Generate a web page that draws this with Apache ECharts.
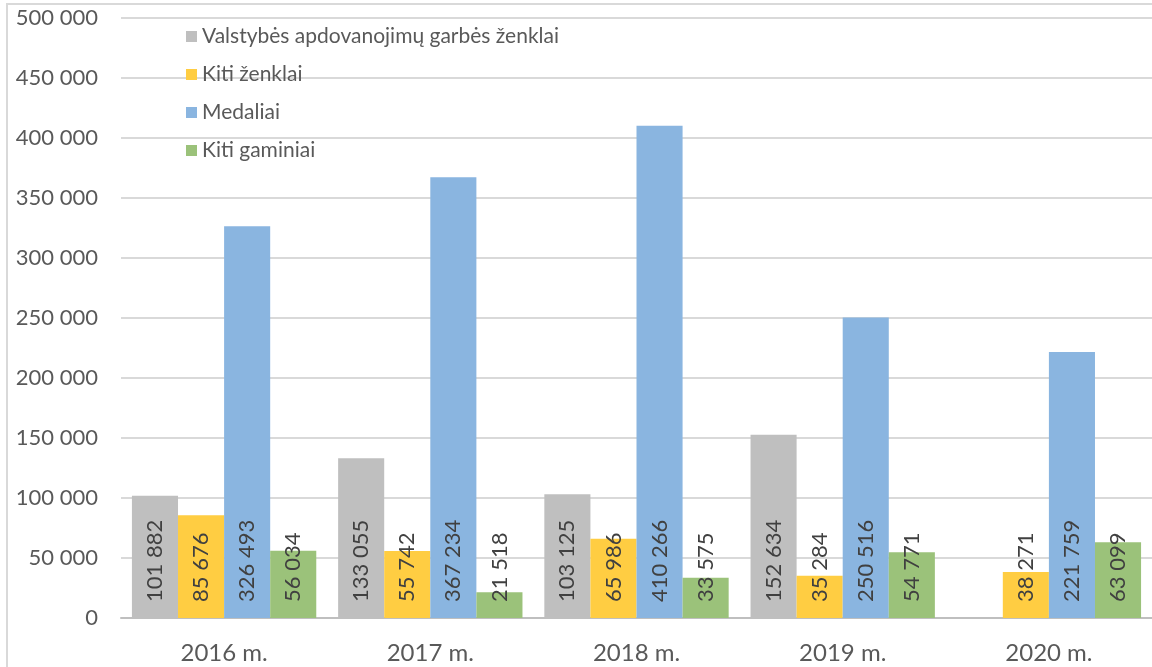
<!DOCTYPE html>
<html>
<head>
<meta charset="utf-8">
<script src="https://cdn.jsdelivr.net/npm/echarts@6/dist/echarts.min.js"></script>
<style>
  html, body { margin: 0; padding: 0; background: #fff; }
  #frame { position: absolute; left: 6px; top: 3px; width: 1160px; height: 680px; border: 2px solid #d9d9d9; box-sizing: border-box; }
  #chart { position: absolute; left: 0; top: 0; width: 1152px; height: 667px; }
</style>
</head>
<body>
<div id="frame"></div>
<div id="chart"></div>
<script>
const years = ['2016 m.', '2017 m.', '2018 m.', '2019 m.', '2020 m.'];
const seriesNames = ['Valstybės apdovanojimų garbės ženklai', 'Kiti ženklai', 'Medaliai', 'Kiti gaminiai'];
const valstybes = [101882, 133055, 103125, 152634, null];
const kitiZenklai = [85676, 55742, 65986, 35284, 38271];
const medaliai = [326493, 367234, 410266, 250516, 221759];
const kitiGaminiai = [56034, 21518, 33575, 54771, 63099];
const colors = ['#bfbfbf', '#ffcd42', '#8ab5e0', '#9bc27a'];

const fontFamily = 'Lato, "Liberation Sans", sans-serif';

function fmt(v) {
    return String(v).replace(/\B(?=(\d{3})+(?!\d))/g, ' ');
}

const chart = echarts.init(document.getElementById('chart'));

const dataSets = [valstybes, kitiZenklai, medaliai, kitiGaminiai];

const option = {
    animation: false,
    color: colors,
    grid: { left: 121, right: -5, top: 18, bottom: 49 },
    legend: {
        orient: 'vertical',
        left: 181,
        top: 21,
        itemWidth: 11,
        itemHeight: 11,
        itemGap: 17,
        icon: 'rect',
        textStyle: { color: '#595959', fontSize: 21, fontFamily: fontFamily },
        data: seriesNames
    },
    xAxis: {
        type: 'category',
        data: years,
        axisLine: { lineStyle: { color: '#bfbfbf', width: 2 } },
        axisTick: { show: false },
        axisLabel: { color: '#595959', fontSize: 24, fontFamily: fontFamily, margin: 23 }
    },
    yAxis: {
        type: 'value',
        min: 0,
        max: 500000,
        interval: 50000,
        axisLine: { show: false },
        axisTick: { show: false },
        splitLine: { lineStyle: { color: '#d9d9d9', width: 2 } },
        axisLabel: {
            color: '#595959', fontSize: 22, fontFamily: fontFamily, margin: 23,
            formatter: fmt
        }
    },
    series: dataSets.map(function (d, i) {
        return {
            name: seriesNames[i],
            type: 'bar',
            data: d,
            barGap: '0%',
            barCategoryGap: '10.6%',
            label: {
                show: true,
                position: 'insideBottom',
                rotate: 90,
                align: 'left',
                verticalAlign: 'middle',
                distance: 16,
                color: '#404040',
                fontSize: 22,
                fontFamily: fontFamily,
                formatter: function (p) { return p.value == null ? '' : fmt(p.value); }
            }
        };
    })
};

chart.setOption(option);
</script>
</body>
</html>
